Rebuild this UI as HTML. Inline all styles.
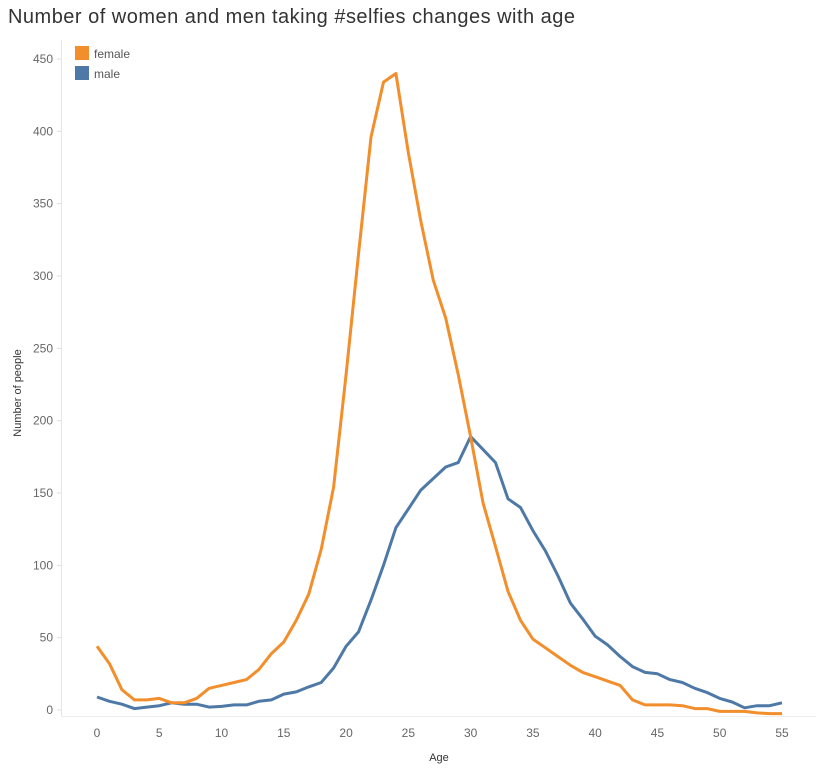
<!DOCTYPE html>
<html><head><meta charset="utf-8"><style>
body{margin:0;background:#fff;}
svg{display:block;font-family:"Liberation Sans",sans-serif;}
</style></head><body>
<svg id="chart" width="816" height="770">
<text x="8" y="23" font-size="20" fill="#333" textLength="567">Number of women and men taking #selfies changes with age</text>
<g id="legend">
<rect x="75" y="46" width="14" height="14" fill="#f28e2b"/>
<text x="94" y="58" font-size="12" fill="#555">female</text>
<rect x="75" y="66" width="14" height="14" fill="#4e79a7"/>
<text x="94" y="78" font-size="12" fill="#555">male</text>
</g>
<line x1="61.5" y1="40" x2="61.5" y2="717" stroke="#e6e6e6"/>
<line x1="61" y1="716.5" x2="816" y2="716.5" stroke="#eeeeee"/>
<g id="yticks"></g>
<g id="xticks"></g>
<text transform="translate(21,393) rotate(-90)" text-anchor="middle" font-size="11" fill="#333">Number of people</text>
<text x="439" y="761" text-anchor="middle" font-size="11" fill="#333">Age</text>
<g id="lines"></g>
</svg>
<script>
const ages = Array.from({length:56},(_,i)=>i);
const femaleValues = [44,32,14,7,7,8,5,5,8,15,17,19,21,28,39,47,62,80,111,154,232,315,396,434,440,385,338,297,271,232,189,143,113,82,62,49,43,37,31,26,23,20,17,7,3.5,3.5,3.5,3,1,1,-1,-1,-1,-2,-2.5,-2.5];
const maleValues = [9,6,4,1,2,3,5,4,4,2,2.5,3.5,3.5,6,7,11,12.5,16,19,29,44,54,76,100,126,139,152,160,168,171,189,180,171,146,140,124,110,93,74,63,51,45,37,30,26,25,21,19,15,12,8,5.5,1.5,3,3,5];
const yTicks = [0,50,100,150,200,250,300,350,400,450];
const xTicks = [0,5,10,15,20,25,30,35,40,45,50,55];
const NS="http://www.w3.org/2000/svg";
const xs = v => 97 + v*(782-97)/55;
const ys = v => 710 - v*(710-59)/450;
const yg=document.getElementById('yticks');
yTicks.forEach(t=>{
  const l=document.createElementNS(NS,'line');
  l.setAttribute('x1',57);l.setAttribute('x2',61);l.setAttribute('y1',ys(t));l.setAttribute('y2',ys(t));l.setAttribute('stroke','#ddd');
  
  
  yg.appendChild(l);
  const tx=document.createElementNS(NS,'text');
  tx.setAttribute('x',53);tx.setAttribute('y',ys(t)+4);tx.setAttribute('text-anchor','end');tx.setAttribute('font-size','12');tx.setAttribute('fill','#666');
  tx.textContent=t;
  
  
  yg.appendChild(tx);
});
const xg=document.getElementById('xticks');
xTicks.forEach(t=>{
  const tx=document.createElementNS(NS,'text');
  tx.setAttribute('x',xs(t));tx.setAttribute('y',737);tx.setAttribute('text-anchor','middle');tx.setAttribute('font-size','12');tx.setAttribute('fill','#666');
  tx.textContent=t;
  
  
  xg.appendChild(tx);
});
const lg=document.getElementById('lines');
function draw(vals,color,name){
  const p=document.createElementNS(NS,'polyline');
  p.setAttribute('points',vals.map((v,i)=>xs(ages[i]).toFixed(1)+','+ys(v).toFixed(1)).join(' '));
  p.setAttribute('fill','none');p.setAttribute('stroke',color);p.setAttribute('stroke-width','3');p.setAttribute('stroke-linejoin','round');
  
  
  lg.appendChild(p);
}
draw(maleValues,'#4e79a7','male-line');
draw(femaleValues,'#f28e2b','female-line');
</script>
</body></html>
